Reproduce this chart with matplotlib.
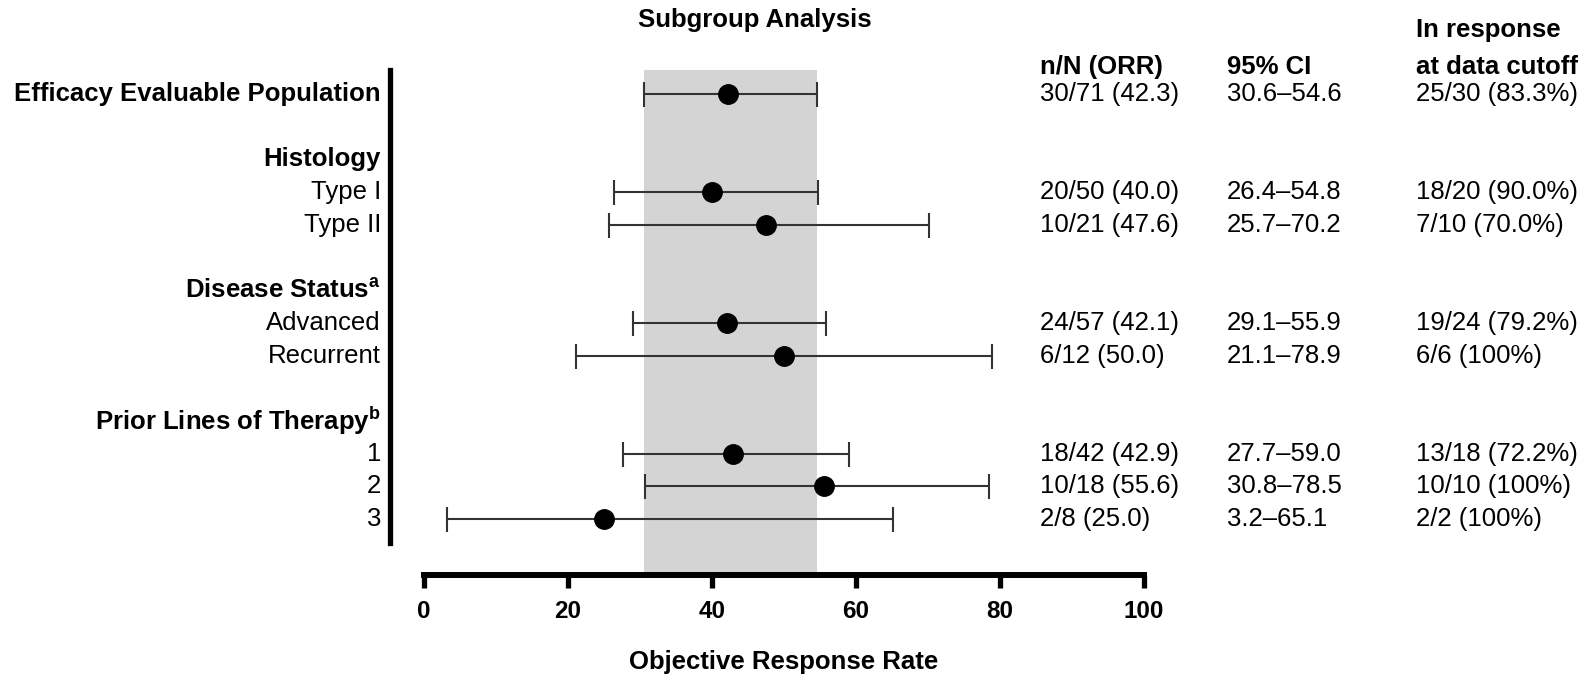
import matplotlib
matplotlib.use("Agg")
import matplotlib.pyplot as plt
from matplotlib.transforms import blended_transform_factory

plt.rcParams['font.family'] = ['Liberation Sans', 'DejaVu Sans']
plt.rcParams['mathtext.fontset'] = 'custom'
plt.rcParams['mathtext.rm'] = 'Liberation Sans'
plt.rcParams['mathtext.bf'] = 'Liberation Sans:bold'

# Data
subgroups = ["Efficacy Evaluable Population", "Type I", "Type II",
             "Advanced", "Recurrent", "1", "2", "3"]
n_resp = [30, 20, 10, 24, 6, 18, 10, 2]
n_total = [71, 50, 21, 57, 12, 42, 18, 8]
orr = [42.3, 40.0, 47.6, 42.1, 50.0, 42.9, 55.6, 25.0]
ci_lo = [30.6, 26.4, 25.7, 29.1, 21.1, 27.7, 30.8, 3.2]
ci_hi = [54.6, 54.8, 70.2, 55.9, 78.9, 59.0, 78.5, 65.1]
ongoing = [25, 18, 7, 19, 6, 13, 10, 2]
ongoing_pct = [83.3, 90.0, 70.0, 79.2, 100, 72.2, 100, 100]

# row order, None = blank spacer row
row_order = ["Efficacy Evaluable Population", None,
             "Histology", "Type I", "Type II", None,
             "Disease Status", "Advanced", "Recurrent", None,
             "Prior Lines of Therapy", "1", "2", "3"]
headers = {"Histology": "", "Disease Status": "a", "Prior Lines of Therapy": "b"}

W, H = 1583, 678
fig = plt.figure(figsize=(W / 100, H / 100), dpi=100)
# axes: left spine at px 390, x=100 at px 1144, top 70, bottom axis 575
ax = fig.add_axes([390 / W, 1 - 575 / H, (1144 - 390) / W, (575 - 70) / H])

row_h = 32.7
top_r = -(94 - 70) / row_h
bot_r = (575 - 94) / row_h
ax.set_xlim(-4.65, 100)
ax.set_ylim(bot_r, top_r)

# overall CI band
ax.axvspan(ci_lo[0], ci_hi[0], color='#d4d4d4', zorder=0, lw=0)

FS = 18.5
trans_fx = blended_transform_factory(fig.transFigure, ax.transData)

for y, name in enumerate(row_order):
    if name is None:
        continue
    if name in headers:
        sup = headers[name]
        label = name + (r"$^{\mathbf{%s}}$" % sup if sup else "")
        ax.text(381 / W, y, label, transform=trans_fx, ha='right', va='center',
                fontsize=FS, fontweight='bold')
        continue
    i = subgroups.index(name)
    ax.text(381 / W, y, name, transform=trans_fx, ha='right', va='center',
            fontsize=FS, fontweight='bold' if i == 0 else 'normal')
    ax.errorbar(orr[i], y, xerr=[[orr[i] - ci_lo[i]], [ci_hi[i] - orr[i]]],
                fmt='o', color='black', ecolor='#333333', elinewidth=1.5,
                capsize=9, capthick=1.5, markersize=14, zorder=3)
    pct = "100%" if ongoing_pct[i] == 100 else f"{ongoing_pct[i]:.1f}%"
    ax.text(1040 / W, y, f"{n_resp[i]}/{n_total[i]} ({orr[i]:.1f})",
            transform=trans_fx, va='center', fontsize=FS)
    ax.text(1227 / W, y, f"{ci_lo[i]:.1f}\u2013{ci_hi[i]:.1f}",
            transform=trans_fx, va='center', fontsize=FS)
    ax.text(1416 / W, y, f"{ongoing[i]}/{n_resp[i]} ({pct})",
            transform=trans_fx, va='center', fontsize=FS)

# column headers
fig.text(1040 / W, 1 - 67 / H, "n/N (ORR)", va='center', fontsize=FS, fontweight='bold')
fig.text(1227 / W, 1 - 67 / H, "95% CI", va='center', fontsize=FS, fontweight='bold')
fig.text(1416 / W, 1 - 30 / H, "In response", va='center', fontsize=FS, fontweight='bold')
fig.text(1416 / W, 1 - 67 / H, "at data cutoff", va='center', fontsize=FS, fontweight='bold')

fig.text(755 / W, 1 - 20 / H, "Subgroup Analysis", ha='center', va='center',
         fontsize=FS, fontweight='bold')

# spines
for s in ['top', 'right']:
    ax.spines[s].set_visible(False)
ax.spines['bottom'].set_bounds(0, 100)
ax.spines['bottom'].set_linewidth(4.3)
ax.spines['bottom'].set_capstyle('projecting')
ax.spines['left'].set_bounds(top_r, (543 - 94) / row_h)
ax.spines['left'].set_linewidth(3.8)

ax.set_yticks([])
ax.set_xticks([0, 20, 40, 60, 80, 100])
ax.tick_params(axis='x', direction='out', length=9, width=3.8, pad=9,
               labelsize=17.5)
for lbl in ax.get_xticklabels():
    lbl.set_fontweight('bold')

fig.text(784 / W, 1 - 662 / H, "Objective Response Rate", ha='center', va='center',
         fontsize=FS, fontweight='bold')

fig.savefig("out.png", dpi=100)
